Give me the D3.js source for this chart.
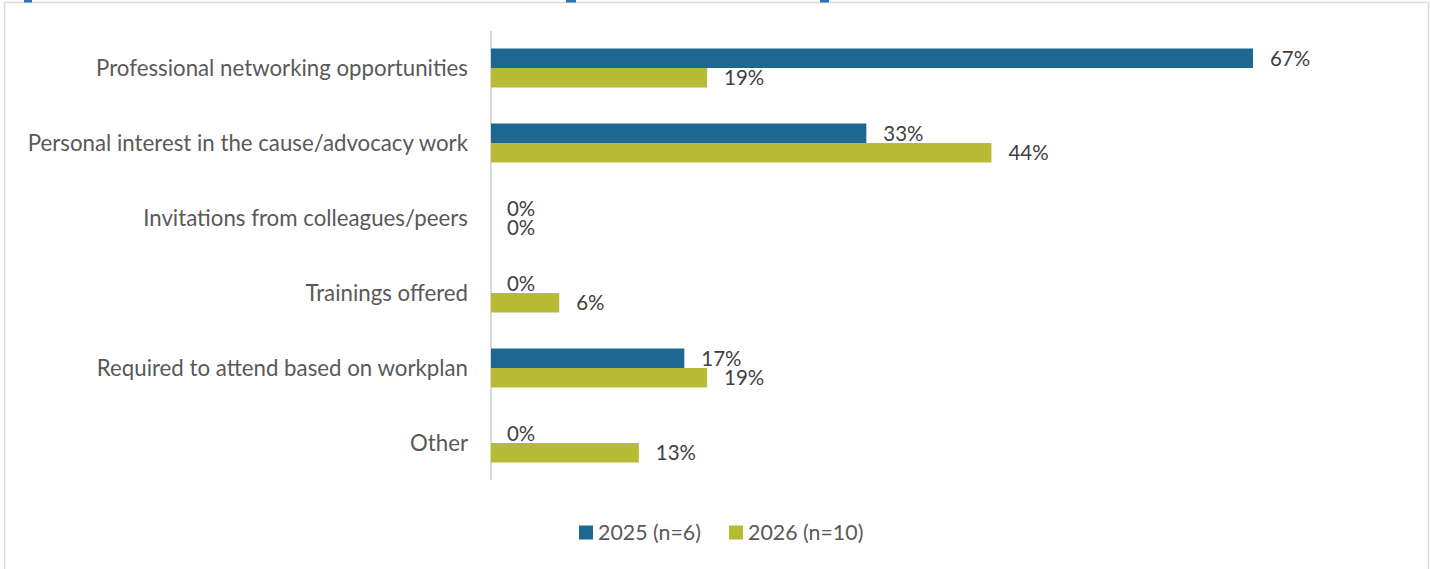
<!DOCTYPE html>
<html><head><meta charset="utf-8">
<script src="https://cdn.jsdelivr.net/npm/d3@7"></script>
<style>body{margin:0;background:#fff;} svg{display:block;}</style>
</head><body>
<svg id="c" width="1431" height="569"></svg>
<script>
const categories = ["Professional networking opportunities","Personal interest in the cause/advocacy work","Invitations from colleagues/peers","Trainings offered","Required to attend based on workplan","Other"];
const series2025 = [67, 33, 0, 0, 17, 0];
const series2026 = [19, 44, 0, 6, 19, 13];
const seriesNames = ["2025 (n=6)", "2026 (n=10)"];
const colors = ["#1c6891", "#b8bc35"];

const W = 1431, H = 569;
const svg = d3.select("#c");
const font = "Lato, 'Open Sans', sans-serif";

// frame
svg.append("rect").attr("x",4.5).attr("y",2.5).attr("width",1424).attr("height",H+10)
  .attr("fill","#fff").attr("stroke","#d9d9d9").attr("stroke-width",1.5);
// small selection handles at top
[[24,8],[566,10],[820,9]].forEach(([x,w])=>svg.append("rect").attr("x",x).attr("y",0).attr("width",w).attr("height",2.5).attr("fill","#2e75b6"));

const x0 = 491;
const x = d3.scaleLinear().domain([0, 67]).range([x0, 1253]);
const y = d3.scaleBand().domain(categories).range([30.5, 480.5]).paddingInner(0.48).paddingOuter(0.24);
const bh = y.bandwidth()/2;

// measure font size for category labels
const tmp = svg.append("text").attr("font-family",font).attr("font-size",20).text(categories[0]);
const wTest = tmp.node().getComputedTextLength(); tmp.remove();
const fs = 20 * 372 / wTest;
const vfs = fs * 0.92;

const g = svg.append("g");
// axis line
g.append("line").attr("x1",x0).attr("x2",x0).attr("y1",31).attr("y2",480).attr("stroke","#d9d9d9").attr("stroke-width",2);

// category labels
g.selectAll("text.cat").data(categories).join("text").attr("class","cat")
  .attr("x",468).attr("y",d=>y(d)+bh).attr("dy","0.35em").attr("text-anchor","end")
  .attr("font-family",font).attr("font-size",fs).attr("fill","#595959").text(d=>d);

[series2025, series2026].forEach((vals,si)=>{
  g.selectAll("rect.s"+si).data(vals).join("rect").attr("class","s"+si)
    .attr("x",x0).attr("y",(d,i)=>y(categories[i])+si*bh).attr("width",d=>x(d)-x0).attr("height",bh)
    .attr("fill",colors[si]);
  g.selectAll("text.v"+si).data(vals).join("text").attr("class","v"+si)
    .attr("x",d=>x(d)+ (d===0?16:17)).attr("y",(d,i)=>y(categories[i])+si*bh+bh/2 + (si===0?1:0))
    .attr("dy","0.35em").attr("font-family",font).attr("font-size",vfs).attr("fill","#404040")
    .text(d=>d+"%");
});

// legend
const lg = svg.append("g");
const items = [{x:579},{x:729}];
items.forEach((it,i)=>{
  lg.append("rect").attr("x",it.x).attr("y",525.5).attr("width",14).attr("height",14).attr("fill",colors[i]);
  lg.append("text").attr("x",it.x+19).attr("y",532.5).attr("dy","0.35em").attr("font-family",font)
    .attr("font-size",fs*0.96).attr("fill","#595959").text(seriesNames[i]);
});
</script>
</body></html>
